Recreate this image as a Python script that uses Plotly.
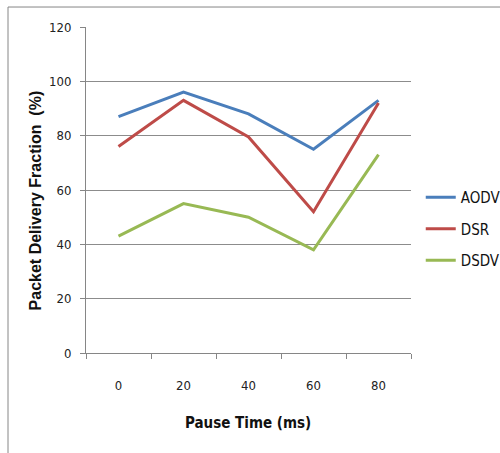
import plotly.graph_objects as go

pause_times = ["0", "20", "40", "60", "80"]
aodv = [87, 96, 88, 75, 93]
dsr = [76, 93, 79.5, 52, 92]
dsdv = [43, 55, 50, 38, 73]

series = [("AODV", aodv, "#4A7EBB"), ("DSR", dsr, "#BE4B48"), ("DSDV", dsdv, "#98B954")]

narrow = "DejaVu Sans Condensed, Liberation Sans Narrow, Liberation Sans"
tick_font = dict(family=narrow, size=13, color="#222222")

fig = go.Figure()
for name, vals, color in series:
    fig.add_trace(go.Scatter(x=pause_times, y=vals, mode="lines", name=name, legendgroup=name,
                             line=dict(color=color, width=3)))

fig.update_layout(
    width=500, height=453,
    margin=dict(l=86, r=89, t=27, b=100, autoexpand=False),
    paper_bgcolor="white", plot_bgcolor="white",
    showlegend=True,
    legend=dict(x=1.03, y=0.38, xanchor="left", yanchor="middle",
                font=dict(family=narrow, size=15, color="#111111"),
                tracegroupgap=9, itemwidth=30, bgcolor="rgba(0,0,0,0)"),
    xaxis=dict(type="category", range=[-0.5, 4.5], tickson="boundaries", ticks="outside", ticklen=5,
               tickcolor="#868686", showline=True, linecolor="#868686", linewidth=1,
               showgrid=False, tickfont=tick_font, ticklabelstandoff=20),
    yaxis=dict(range=[0, 120], dtick=20, ticks="outside", ticklen=5, tickcolor="#868686",
               showline=True, linecolor="#868686", linewidth=1,
               showgrid=True, gridcolor="#8C8C8C", gridwidth=1, zeroline=False,
               tickfont=tick_font, ticklabelstandoff=6),
)

# axis titles
fig.add_annotation(text="<b>Pause Time (ms)</b>", xref="paper", yref="paper",
                   x=0.498, y=-0.215, showarrow=False, xanchor="center", yanchor="middle",
                   font=dict(family=narrow, size=15, color="#111111"))
fig.add_annotation(text="<b>Packet Delivery Fraction  (%)</b>", xref="paper", yref="paper",
                   x=-0.157, y=0.468, showarrow=False, textangle=-90,
                   xanchor="center", yanchor="middle",
                   font=dict(family="Liberation Sans, Arial", size=16, color="#111111"))

# outer chart-area border
fig.add_shape(type="rect", xref="paper", yref="paper",
              x0=-0.24, x1=1.5, y0=-0.5, y1=1.0613,
              line=dict(color="#868686", width=1), fillcolor="rgba(0,0,0,0)", layer="below")

fig.write_html("out.html")
